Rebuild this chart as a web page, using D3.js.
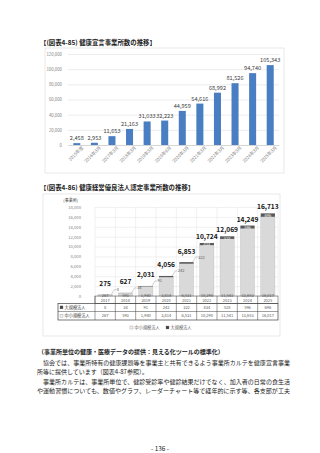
<!DOCTYPE html>
<html>
<head>
<meta charset="utf-8">
<script src="https://cdn.jsdelivr.net/npm/d3@7"></script>
<style>
  body { margin: 0; background: #fff; }
  svg { display: block; }
  text { font-family: "Noto Sans CJK JP", "Noto Sans", sans-serif; }
</style>
</head>
<body>
<script>
// (図表4-85) 健康宣言事業所数
const declareLabels = ['2015年度', '2016年3月', '2017年3月', '2018年3月', '2019年3月', '2019年9月',
  '2020年3月', '2021年3月', '2022年3月', '2023年3月', '2024年3月', '2025年3月'];
const declareCounts = [2458, 2953, 11653, 21163, 31033, 32223, 44959, 54616, 68992, 81526, 94740, 105343];
const declareTicks = [0, 20000, 40000, 60000, 80000, 100000, 120000];

// (図表4-86) 健康経営優良法人認定事業所数
const certYears = ['2017', '2018', '2019', '2020', '2021', '2022', '2023', '2024', '2025'];
const largeCorp = [8, 34, 91, 242, 322, 434, 528, 596, 696];
const smeCorp = [267, 593, 1940, 3814, 6531, 10290, 11541, 13653, 16017];
const certTicks = [0, 2000, 4000, 6000, 8000, 10000, 12000, 14000, 16000, 18000];

const bodyLines = [
  '　協会では、事業所特有の健康課題等を事業主と共有できるよう事業所カルテを健康宣言事業',
  '所等に提供しています（図表4-87参照）。',
  '　事業所カルテは、事業所単位で、健診受診率や健診結果だけでなく、加入者の日常の食生活',
  'や運動習慣についても、数値やグラフ、レーダーチャート等で経年的に示す等、各支部が工夫'
];

const fmt = d3.format(',');
const width = 320;
const height = 453;

const svg = d3.select('body').append('svg')
  .attr('width', width)
  .attr('height', height);

// ---------- chart 1 ----------
svg.append('text')
  .attr('x', 40).attr('y', 45)
  .attr('font-size', 6.4).attr('font-weight', 'bold').attr('fill', '#222')
  .text('【(図表4-85) 健康宣言事業所数の推移】');

svg.append('rect')
  .attr('x', 45).attr('y', 48).attr('width', 239).attr('height', 125)
  .attr('fill', 'none').attr('stroke', '#d9d9d9').attr('stroke-width', 0.6);

const x1 = d3.scaleBand().domain(declareLabels).range([68, 279])
  .paddingInner(0.6).paddingOuter(0.3);
const y1 = d3.scaleLinear().domain([0, 120000]).range([145, 54]);

const g1 = svg.append('g');
g1.append('g')
  .attr('transform', 'translate(68,0)')
  .call(d3.axisLeft(y1).tickValues(declareTicks).tickSize(-211).tickFormat(fmt))
  .call(g => g.select('.domain').remove())
  .call(g => g.selectAll('line').attr('stroke', '#d9d9d9').attr('stroke-width', 0.5))
  .call(g => g.selectAll('text').attr('x', -6).attr('font-size', 4.3).attr('fill', '#7f7f7f'));

g1.append('g')
  .attr('transform', 'translate(0,145)')
  .call(d3.axisBottom(x1).tickSize(0))
  .call(g => g.select('.domain').attr('stroke', '#bfbfbf').attr('stroke-width', 0.5))
  .call(g => g.selectAll('text')
    .attr('font-size', 4.4).attr('fill', '#7f7f7f')
    .attr('text-anchor', 'end')
    .attr('dx', '0.6em').attr('dy', '0.9em')
    .attr('transform', 'rotate(-45)'));

g1.selectAll('.bar1').data(declareCounts).enter().append('rect')
  .attr('class', 'bar1')
  .attr('x', (d, i) => x1(declareLabels[i]))
  .attr('y', d => y1(d))
  .attr('width', x1.bandwidth())
  .attr('height', d => y1(0) - y1(d))
  .attr('fill', '#4a7ec2');

g1.selectAll('.lab1').data(declareCounts).enter().append('text')
  .attr('class', 'lab1')
  .attr('x', (d, i) => x1(declareLabels[i]) + x1.bandwidth() / 2)
  .attr('y', d => y1(d) - 3)
  .attr('text-anchor', 'middle')
  .attr('font-size', 5.6).attr('fill', '#404040')
  .text(fmt);

// ---------- chart 2 ----------
svg.append('text')
  .attr('x', 40).attr('y', 190)
  .attr('font-size', 6.4).attr('font-weight', 'bold').attr('fill', '#222')
  .text('【(図表4-86) 健康経営優良法人認定事業所数の推移】');

svg.append('rect')
  .attr('x', 43).attr('y', 194).attr('width', 237).attr('height', 142)
  .attr('fill', 'none').attr('stroke', '#d9d9d9').attr('stroke-width', 0.6);

const x2 = d3.scaleBand().domain(certYears).range([95, 278])
  .paddingInner(0.3).paddingOuter(0.15);
const y2 = d3.scaleLinear().domain([0, 18000]).range([296, 207]);
const step = x2.step();
const colLeft = i => x2(certYears[i]) - x2.paddingOuter() * step;

const g2 = svg.append('g');
g2.append('text')
  .attr('x', 78).attr('y', 202)
  .attr('text-anchor', 'end').attr('font-size', 4).attr('fill', '#333')
  .text('(事業所)');

g2.append('g')
  .attr('transform', 'translate(95,0)')
  .call(d3.axisLeft(y2).tickValues(certTicks).tickSize(-183).tickFormat(fmt))
  .call(g => g.select('.domain').remove())
  .call(g => g.selectAll('line').attr('stroke', '#e3e3e3').attr('stroke-width', 0.5))
  .call(g => g.selectAll('text').attr('x', -14).attr('font-size', 4.2).attr('fill', '#7f7f7f'));

// vertical gridlines at column boundaries
g2.selectAll('.vgrid').data(certYears.concat(['end'])).enter().append('line')
  .attr('class', 'vgrid')
  .attr('x1', (d, i) => 95 + i * step).attr('x2', (d, i) => 95 + i * step)
  .attr('y1', y2(18000)).attr('y2', y2(0))
  .attr('stroke', '#e3e3e3').attr('stroke-width', 0.5);

const stacked = certYears.map((yr, i) => ({ yr, sme: smeCorp[i], large: largeCorp[i], total: smeCorp[i] + largeCorp[i], i }));

g2.selectAll('.sme').data(stacked).enter().append('rect')
  .attr('class', 'sme')
  .attr('x', d => x2(d.yr)).attr('width', x2.bandwidth())
  .attr('y', d => y2(d.sme)).attr('height', d => y2(0) - y2(d.sme))
  .attr('fill', '#d9d9d9').attr('stroke', '#bfbfbf').attr('stroke-width', 0.4);

g2.selectAll('.large').data(stacked).enter().append('rect')
  .attr('class', 'large')
  .attr('x', d => x2(d.yr)).attr('width', x2.bandwidth())
  .attr('y', d => y2(d.total)).attr('height', d => y2(d.sme) - y2(d.total))
  .attr('fill', '#595959');

// sme values inside bars
g2.selectAll('.smeLab').data(stacked).enter().append('text')
  .attr('class', 'smeLab')
  .attr('x', d => x2(d.yr) + x2.bandwidth() / 2)
  .attr('y', d => Math.max(y2(d.sme / 2) + 1.5, y2(0) + 0.5))
  .attr('text-anchor', 'middle').attr('font-size', 4).attr('fill', '#595959')
  .text(d => fmt(d.sme));

// large corp values: leader lines for small ones, inside otherwise
const outside = d => d.i < 5;
g2.selectAll('.leader').data(stacked.filter(outside)).enter().append('polyline')
  .attr('class', 'leader')
  .attr('points', d => {
    const x0 = x2(d.yr) + x2.bandwidth() - 1;
    const yTop = y2(d.total);
    return `${x0},${yTop} ${x0 + 3},${yTop - 5} ${x0 + 5},${yTop - 5}`;
  })
  .attr('fill', 'none').attr('stroke', '#8c8c8c').attr('stroke-width', 0.4);

g2.selectAll('.largeLab').data(stacked).enter().append('text')
  .attr('class', 'largeLab')
  .attr('x', d => outside(d) ? x2(d.yr) + x2.bandwidth() + 4.5 : x2(d.yr) + x2.bandwidth() / 2)
  .attr('y', d => outside(d) ? y2(d.total) - 3.5 : y2(d.total) + 3.5)
  .attr('text-anchor', d => outside(d) ? 'start' : 'middle')
  .attr('font-size', 4).attr('fill', d => outside(d) ? '#595959' : '#f2f2f2')
  .text(d => fmt(d.large));

g2.selectAll('.totLab').data(stacked).enter().append('text')
  .attr('class', 'totLab')
  .attr('x', d => x2(d.yr) + x2.bandwidth() / 2)
  .attr('y', d => y2(d.total) - (outside(d) ? 8.5 : 4))
  .attr('text-anchor', 'middle').attr('font-size', 6.6).attr('font-weight', 'bold').attr('fill', '#111')
  .text(d => fmt(d.total));

// data table
const tbl = svg.append('g');
const rowY = [296, 303.5, 311.5, 320];
const tblLeft = 58;
const tblRight = 95 + certYears.length * step;
tbl.append('rect')
  .attr('x', 95).attr('y', rowY[0]).attr('width', tblRight - 95).attr('height', rowY[1] - rowY[0])
  .attr('fill', 'none').attr('stroke', '#404040').attr('stroke-width', 0.5);
tbl.append('rect')
  .attr('x', tblLeft).attr('y', rowY[1]).attr('width', tblRight - tblLeft).attr('height', rowY[3] - rowY[1])
  .attr('fill', 'none').attr('stroke', '#404040').attr('stroke-width', 0.7);
tbl.append('line')
  .attr('x1', tblLeft).attr('x2', tblRight).attr('y1', rowY[2]).attr('y2', rowY[2])
  .attr('stroke', '#404040').attr('stroke-width', 0.5);
tbl.selectAll('.col').data(certYears).enter().append('line')
  .attr('class', 'col')
  .attr('x1', (d, i) => colLeft(i)).attr('x2', (d, i) => colLeft(i))
  .attr('y1', rowY[0]).attr('y2', rowY[3])
  .attr('stroke', '#404040').attr('stroke-width', 0.5);

tbl.selectAll('.yr').data(certYears).enter().append('text')
  .attr('class', 'yr')
  .attr('x', d => x2(d) + x2.bandwidth() / 2).attr('y', rowY[0] + 5.5)
  .attr('text-anchor', 'middle').attr('font-size', 4).attr('fill', '#595959')
  .text(d => d);

const tableRows = [
  { name: '大規模法人', vals: largeCorp, mark: '#404040' },
  { name: '中小規模法人', vals: smeCorp, mark: '#f2f2f2' }
];
tableRows.forEach((r, ri) => {
  const yMid = (rowY[ri + 1] + rowY[ri + 2]) / 2;
  tbl.append('rect')
    .attr('x', tblLeft + 2).attr('y', yMid - 1.6).attr('width', 3).attr('height', 3)
    .attr('fill', r.mark).attr('stroke', '#7f7f7f').attr('stroke-width', 0.3);
  tbl.append('text')
    .attr('x', tblLeft + 6.5).attr('y', yMid + 1.5)
    .attr('font-size', 4.2).attr('fill', '#404040')
    .text(r.name);
  tbl.selectAll('.v' + ri).data(r.vals).enter().append('text')
    .attr('x', (d, i) => x2(certYears[i]) + x2.bandwidth() / 2).attr('y', yMid + 1.5)
    .attr('text-anchor', 'middle').attr('font-size', 4).attr('fill', '#595959')
    .text(fmt);
});

// legend
const legend = svg.append('g').attr('transform', 'translate(130,329)');
[{ name: '中小規模法人', fill: '#f2f2f2', dx: 0 }, { name: '大規模法人', fill: '#404040', dx: 36 }].forEach(l => {
  legend.append('rect').attr('x', l.dx).attr('y', -3).attr('width', 3).attr('height', 3)
    .attr('fill', l.fill).attr('stroke', '#7f7f7f').attr('stroke-width', 0.3);
  legend.append('text').attr('x', l.dx + 4.5).attr('y', 0.3)
    .attr('font-size', 4.2).attr('fill', '#595959').text(l.name);
});

// ---------- body text ----------
svg.append('text')
  .attr('x', 38).attr('y', 354)
  .attr('font-size', 6).attr('font-weight', 'bold').attr('fill', '#222')
  .text('（事業所単位の健康・医療データの提供：見える化ツールの標準化）');

bodyLines.forEach((line, i) => {
  const t = svg.append('text')
    .attr('x', 37).attr('y', 365 + i * 9.4)
    .attr('font-size', 6).attr('fill', '#222')
    .text(line);
  if (i !== 1) t.attr('textLength', 253).attr('lengthAdjust', 'spacingAndGlyphs');
});

svg.append('text')
  .attr('x', 160).attr('y', 451)
  .attr('text-anchor', 'middle').attr('font-size', 6.4).attr('fill', '#222')
  .text('- 136 -');
</script>
</body>
</html>
